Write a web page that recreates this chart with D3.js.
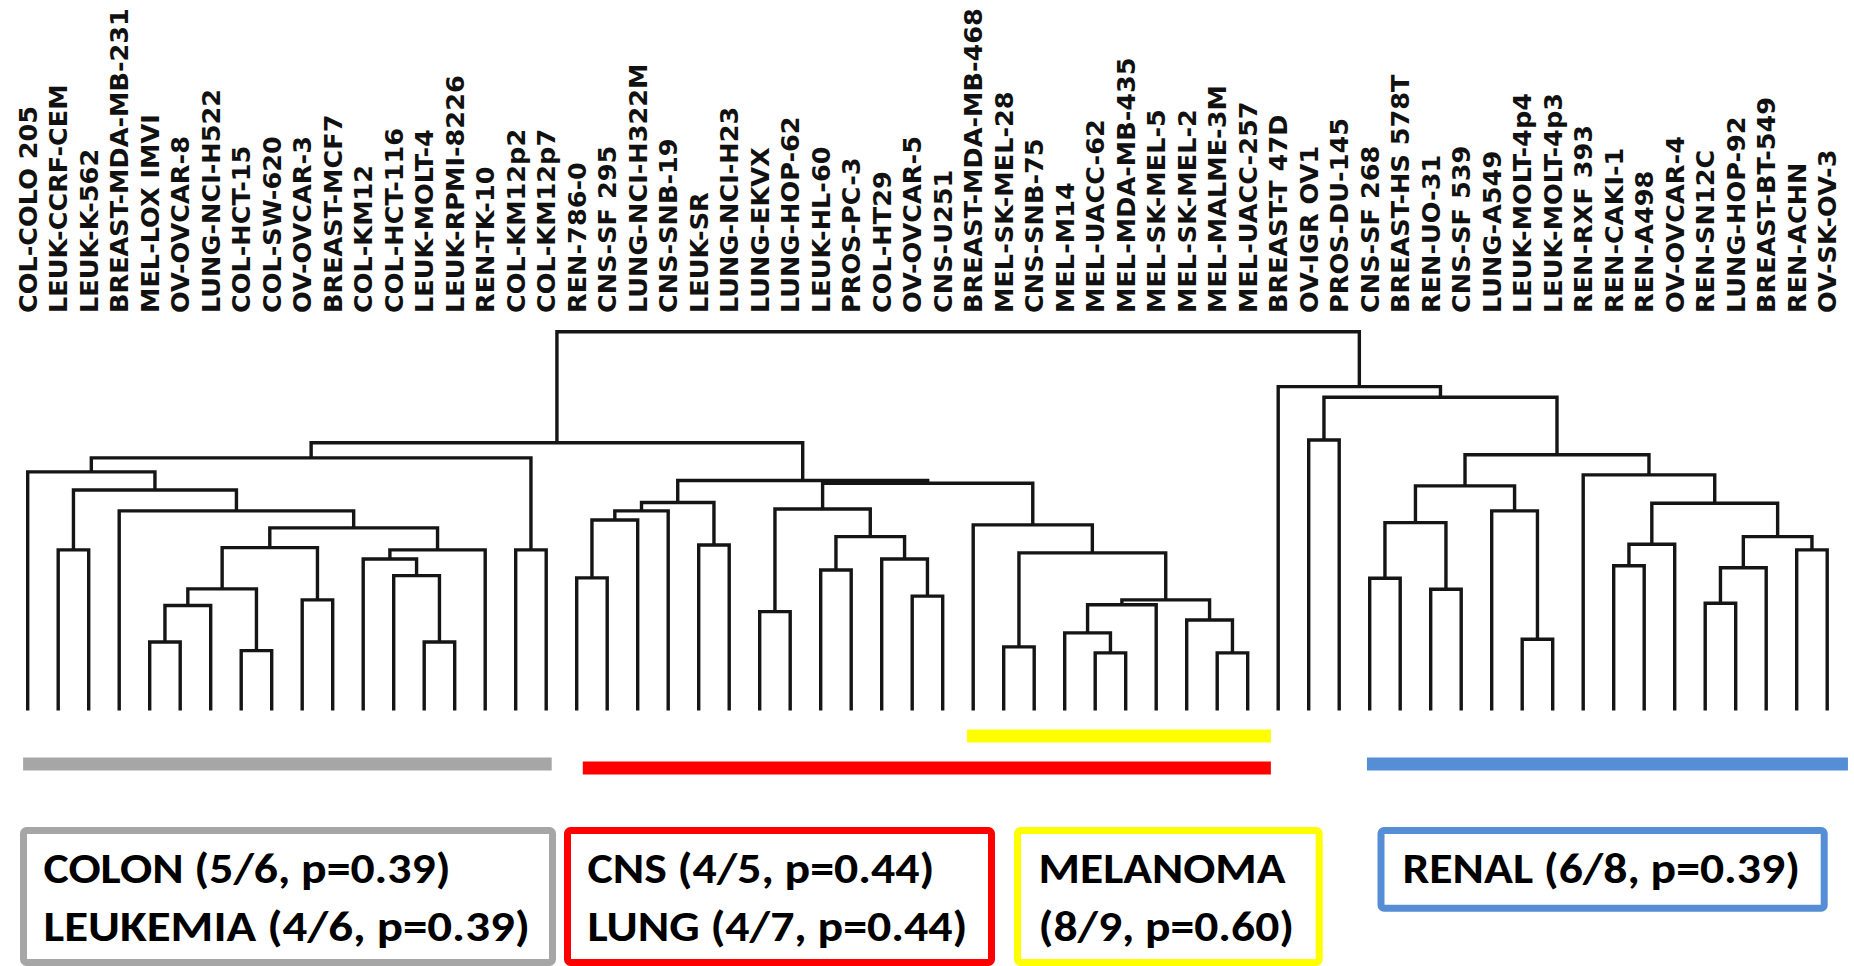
<!DOCTYPE html>
<html><head><meta charset="utf-8">
<script src="https://cdn.jsdelivr.net/npm/d3@7"></script>
<style>body{margin:0;background:#fff} svg{display:block}</style>
</head><body>
<svg id="chart" width="1854" height="966"></svg>
<script>
// ---------------- DATA ----------------
const labels = [
  "COL-COLO 205","LEUK-CCRF-CEM","LEUK-K-562","BREAST-MDA-MB-231","MEL-LOX IMVI",
  "OV-OVCAR-8","LUNG-NCI-H522","COL-HCT-15","COL-SW-620","OV-OVCAR-3",
  "BREAST-MCF7","COL-KM12","COL-HCT-116","LEUK-MOLT-4","LEUK-RPMI-8226",
  "REN-TK-10","COL-KM12p2","COL-KM12p7","REN-786-0","CNS-SF 295",
  "LUNG-NCI-H322M","CNS-SNB-19","LEUK-SR","LUNG-NCI-H23","LUNG-EKVX",
  "LUNG-HOP-62","LEUK-HL-60","PROS-PC-3","COL-HT29","OV-OVCAR-5",
  "CNS-U251","BREAST-MDA-MB-468","MEL-SK-MEL-28","CNS-SNB-75","MEL-M14",
  "MEL-UACC-62","MEL-MDA-MB-435","MEL-SK-MEL-5","MEL-SK-MEL-2","MEL-MALME-3M",
  "MEL-UACC-257","BREAST-T 47D","OV-IGR OV1","PROS-DU-145","CNS-SF 268",
  "BREAST-HS 578T","REN-UO-31","CNS-SF 539","LUNG-A549","LEUK-MOLT-4p4",
  "LEUK-MOLT-4p3","REN-RXF 393","REN-CAKI-1","REN-A498","OV-OVCAR-4",
  "REN-SN12C","LUNG-HOP-92","BREAST-BT-549","REN-ACHN","OV-SK-OV-3"
];

// linkage: [childA, childB, mergeHeight]; ids >= 60 refer to earlier merges (60 + row)
const merges = [
  [4,5,0.181],[60,6,0.277],[7,8,0.158],[61,62,0.321],[9,10,0.292],
  [63,64,0.430],[13,14,0.181],[12,66,0.356],[11,67,0.400],[68,15,0.424],
  [65,69,0.482],[3,70,0.527],[1,2,0.424],[72,71,0.582],[0,73,0.630],
  [16,17,0.424],[74,75,0.667],[18,19,0.350],[77,20,0.503],[78,21,0.527],
  [22,23,0.437],[79,80,0.549],[24,25,0.261],[26,27,0.371],[29,30,0.302],
  [28,84,0.400],[83,85,0.459],[82,86,0.532],[35,36,0.152],[34,88,0.205],
  [89,37,0.279],[39,40,0.152],[38,91,0.239],[90,92,0.292],[32,33,0.168],
  [94,93,0.416],[31,95,0.490],[87,96,0.600],[81,97,0.607],[76,98,0.707],
  [42,43,0.714],[44,45,0.349],[46,47,0.320],[101,102,0.496],[49,50,0.188],
  [48,104,0.527],[103,105,0.593],[52,53,0.382],[107,54,0.439],[55,56,0.283],
  [109,57,0.377],[58,59,0.424],[110,111,0.459],[108,112,0.547],[51,113,0.622],
  [106,114,0.675],[100,115,0.827],[41,116,0.855],[99,117,1.000]
];

// cluster bars: first and last leaf index covered
const clusterNames = ["COLON/LEUKEMIA","CNS/LUNG","MELANOMA","RENAL"];
const clusterFirst = [0, 18, 31, 44];
const clusterLast  = [17, 40, 40, 59];
const clusterColors = ["#a6a6a6","#ff0000","#ffff00","#558ed5"];

const boxLines = [
  ["COLON (5/6, p=0.39)", "LEUKEMIA (4/6, p=0.39)"],
  ["CNS (4/5, p=0.44)", "LUNG (4/7, p=0.44)"],
  ["MELANOMA", "(8/9, p=0.60)"],
  ["RENAL (6/8, p=0.39)"]
];

// ---------------- LAYOUT ----------------
const svg = d3.select("#chart");
const x = d3.scaleLinear().domain([0, labels.length - 1]).range([27.7, 1827.2]);
const y = d3.scaleLinear().domain([0, 1]).range([710.5, 331.7]);

const nodes = labels.map((name, i) => ({name, i, h: 0}));
merges.forEach(([a, b, h]) => nodes.push({children: [nodes[a], nodes[b]], h}));
const root = d3.hierarchy(nodes[nodes.length - 1]);
// x of every node = mean of children (post-order)
root.eachAfter(n => {
  n.px = n.children ? d3.mean(n.children, c => c.px) : x(n.data.i);
  n.py = y(n.data.h);
});

// links
svg.append("g")
  .attr("fill", "none").attr("stroke", "#151515").attr("stroke-width", 3.4)
  .attr("stroke-linejoin", "miter")
  .selectAll("path")
  .data(root.descendants().filter(d => d.children))
  .join("path")
  .attr("d", d => {
    const [a, b] = d.children;
    return `M${a.px},${a.py}V${d.py}H${b.px}V${b.py}`;
  });

// leaf labels
const lab = svg.append("g")
  .attr("font-family", "'DejaVu Sans', Verdana, sans-serif")
  .attr("font-weight", "bold").attr("fill", "#111");
// size so that the longest label spans ~305 px
const probe = lab.append("text").attr("font-size", 100).text("BREAST-MDA-MB-468");
const fs = 100 * 305 / probe.node().getComputedTextLength();
probe.remove();
lab.attr("font-size", fs)
  .selectAll("text")
  .data(root.leaves())
  .join("text")
  .attr("transform", d => `translate(${d.px},313) rotate(-90)`)
  .attr("text-anchor", "start")
  .attr("dy", "0.36em")
  .text(d => d.data.name);

// cluster bars
const barPad = [[-0.15, 0.18], [0.2, 0.76], [-0.2, 0.76], [-0.09, 0.68]];
const barY = [764, 768, 736, 764];
svg.append("g").selectAll("rect")
  .data(clusterNames)
  .join("rect")
  .attr("x", (d, k) => x(clusterFirst[k] + barPad[k][0]))
  .attr("width", (d, k) => x(clusterLast[k] + barPad[k][1]) - x(clusterFirst[k] + barPad[k][0]))
  .attr("y", (d, k) => barY[k] - 6.5)
  .attr("height", 13)
  .attr("fill", (d, k) => clusterColors[k]);

// boxes
const boxX = [[23.5, 552.5], [567.5, 991.5], [1017.5, 1319.2], [1381, 1824.2]];
const boxY = [[830.5, 962.5], [830.5, 962.5], [830.5, 962.5], [830.5, 908.2]];
const textX = [43.5, 587.4, 1038.6, 1402.5];
const lineY = [883, 941];
const textW = [[407, 486.5], [347, 380], [247, 255.5], [397.5]];

const boxes = svg.append("g").selectAll("g").data(boxLines).join("g");
boxes.append("rect")
  .attr("x", (d, k) => boxX[k][0]).attr("y", (d, k) => boxY[k][0])
  .attr("width", (d, k) => boxX[k][1] - boxX[k][0])
  .attr("height", (d, k) => boxY[k][1] - boxY[k][0])
  .attr("rx", 3)
  .attr("fill", "#fff").attr("stroke", (d, k) => clusterColors[k]).attr("stroke-width", 7);
boxes.each(function(lines, k) {
  d3.select(this).selectAll("text").data(lines).join("text")
    .attr("x", textX[k]).attr("y", (d, j) => lineY[j])
    .attr("font-family", "Carlito, Calibri, Lato, sans-serif")
    .attr("font-weight", "bold").attr("font-size", 42).attr("fill", "#000")
    .attr("textLength", (d, j) => textW[k][j])
    .attr("lengthAdjust", "spacingAndGlyphs")
    .text(d => d);
});
</script>
</body></html>
